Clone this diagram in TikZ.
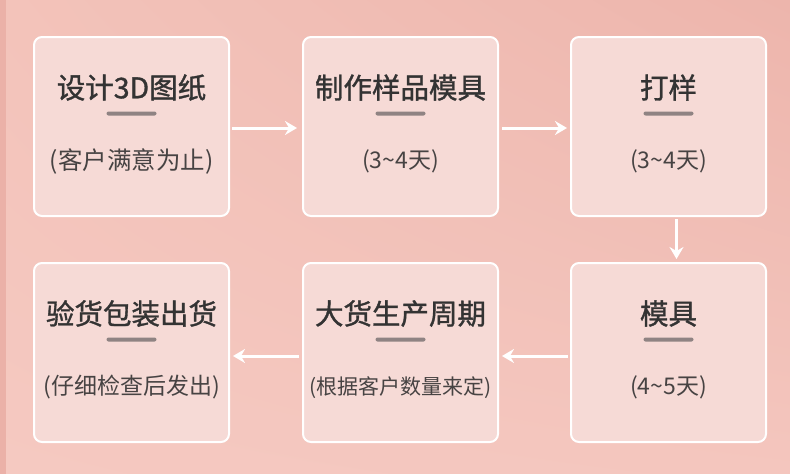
\documentclass[tikz,border=0pt]{standalone}
\usepackage{fontspec}
\newfontfamily\cjk{Noto Sans CJK SC}
\newfontfamily\cjkm[FakeBold=1.2]{Noto Sans CJK SC}
\usetikzlibrary{arrows.meta,shadings}
\definecolor{bgTL}{HTML}{F3C3BA}
\definecolor{bgTR}{HTML}{EDB5AC}
\definecolor{bgBL}{HTML}{F5C9C1}
\definecolor{bgBR}{HTML}{F4C6BE}
\definecolor{strip}{HTML}{EBB1A8}
\definecolor{boxfill}{HTML}{F6DAD6}
\definecolor{titlec}{HTML}{333333}
\definecolor{subc}{HTML}{474343}
\definecolor{barc}{HTML}{8F8383}
\tikzset{
  stepbox/.style={draw=white, line width=2pt, fill=boxfill, rounded corners=8pt,
    minimum width=195pt, minimum height=179pt, inner sep=0pt},
  ttl/.style={font=\cjkm\fontsize{28.5}{32}\selectfont, text=titlec, inner sep=0pt},
  sub/.style={font=\cjk\fontsize{#1}{26}\selectfont, text=subc, inner sep=0pt},
  barline/.style={fill=barc, rounded corners=2pt, minimum width=50pt, minimum height=4pt, inner sep=0pt},
  arr/.style={draw=white, line width=3pt, -{Stealth[length=12pt,width=14pt,inset=4pt]}}
}
\begin{document}
\begin{tikzpicture}[x=1pt,y=-1pt]
\useasboundingbox (0,0) rectangle (790,474);
\shade[upper left=bgTL, upper right=bgTR, lower left=bgBL, lower right=bgBR] (0,0) rectangle (790,474);
\fill[strip] (0,0) rectangle (6,474);
% boxes
\node[stepbox] (b1) at (131.5,126.5) {};
\node[stepbox] (b2) at (400.5,126.5) {};
\node[stepbox] (b3) at (668.5,126.5) {};
\node[stepbox] (b4) at (131.5,352.5) {};
\node[stepbox] (b5) at (400.5,352.5) {};
\node[stepbox] (b6) at (668.5,352.5) {};
% contents
\foreach \b/\t/\s/\z in {b1/设计3D图纸/(客户满意为止)/24.5,
                      b2/制作样品模具/(3\textasciitilde4天)/23,
                      b3/打样/(3\textasciitilde4天)/23,
                      b4/验货包装出货/(仔细检查后发出)/23,
                      b5/大货生产周期/(根据客户数量来定)/21,
                      b6/模具/(4\textasciitilde5天)/23}{
  \node[ttl] (\b t) at ([yshift=39pt]\b.center) {\t};
  \node[barline] (\b bar) at ([yshift=13pt]\b.center) {};
  \node[sub=\z] (\b s) at ([yshift=-35pt]\b.center) {\s};
}
% arrows
\draw[arr, shorten <=2pt, shorten >=5pt] ([yshift=-1.5pt]b1.east) -- ([yshift=-1.5pt]b2.west);
\draw[arr, shorten <=3pt, shorten >=3pt] ([yshift=-1.5pt]b2.east) -- ([yshift=-1.5pt]b3.west);
\draw[arr, shorten <=2pt, shorten >=3pt] ([xshift=8pt]b3.south) -- ([xshift=8pt]b6.north);
\draw[arr, shorten <=2pt, shorten >=3pt] ([yshift=-3.5pt]b6.west) -- ([yshift=-3.5pt]b5.east);
\draw[arr, shorten <=3pt, shorten >=3pt] ([yshift=-3.5pt]b5.west) -- ([yshift=-3.5pt]b4.east);
\end{tikzpicture}
\end{document}
